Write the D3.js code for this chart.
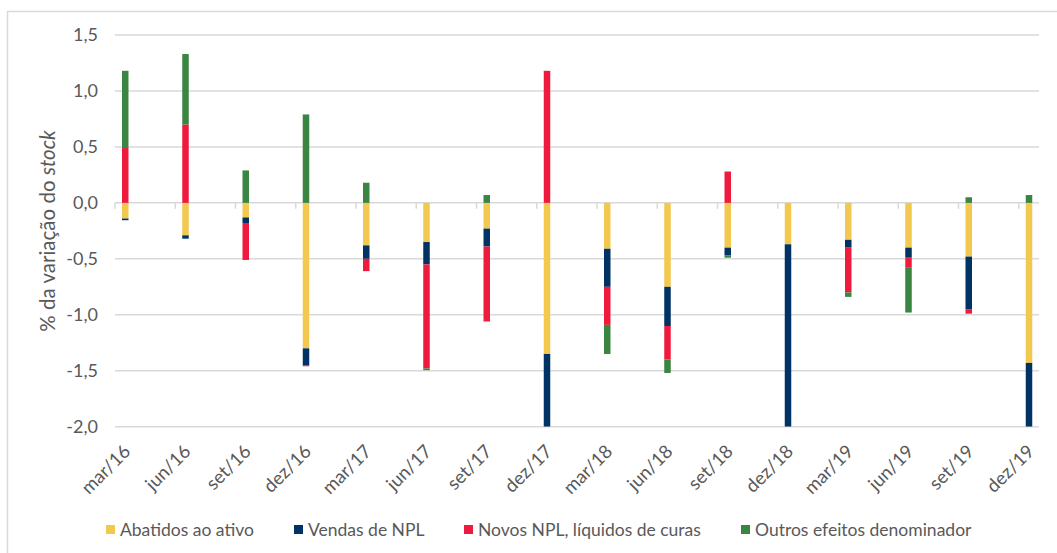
<!DOCTYPE html>
<html>
  <head>
    <script src="https://d3js.org/d3.v7.min.js"></script>
    <style>
      body { margin: 0; background: #fff; }
      text { font-family: Lato, "Open Sans", sans-serif; fill: #595959; }
      .grid line { stroke: #d9d9d9; stroke-width: 1.5; }
    </style>
  </head>
  <body>
    <svg width="1057" height="553"></svg>
    <script>
      // dados
      var categories = ["mar/16","jun/16","set/16","dez/16","mar/17","jun/17","set/17","dez/17",
                        "mar/18","jun/18","set/18","dez/18","mar/19","jun/19","set/19","dez/19"];
      var abatidos = [-0.14,-0.29,-0.13,-1.30,-0.38,-0.35,-0.23,-1.35,-0.41,-0.75,-0.40,-0.37,-0.33,-0.40,-0.48,-1.43];
      var vendas   = [-0.015,-0.03,-0.05,-0.15,-0.12,-0.20,-0.16,-0.65,-0.34,-0.35,-0.07,-1.63,-0.07,-0.09,-0.47,-0.57];
      var novos    = [0.49,0.70,-0.33,-0.01,-0.11,-0.93,-0.67,1.18,-0.34,-0.30,0.28,0,-0.40,-0.09,-0.04,0];
      var outros   = [0.69,0.63,0.29,0.79,0.18,-0.015,0.07,0,-0.26,-0.12,-0.02,0,-0.04,-0.40,0.05,0.07];
      var yTicks = [-2.0,-1.5,-1.0,-0.5,0.0,0.5,1.0,1.5];

      var seriesNames = ["Abatidos ao ativo","Vendas de NPL","Novos NPL, líquidos de curas","Outros efeitos denominador"];
      var seriesKeys = ["abatidos","vendas","novos","outros"];
      var colors = ["#f2c84f","#003263","#ee1b3f","#3b8542"];

      var rows = categories.map(function(c, i) {
        return {cat: c, abatidos: abatidos[i], vendas: vendas[i], novos: novos[i], outros: outros[i]};
      });

      var svg = d3.select("svg");

      // moldura
      svg.append("rect")
          .attr("x", 7.5).attr("y", 11.5)
          .attr("width", 1060).attr("height", 560)
          .attr("fill", "none").attr("stroke", "#d9d9d9").attr("stroke-width", 1.5);

      var plotLeft = 115, plotRight = 1039, plotTop = 35, plotBottom = 426.7;

      var x = d3.scaleBand().domain(categories).range([plotLeft, plotLeft + 60.25 * categories.length]).padding(0);
      var y = d3.scaleLinear().domain([-2, 1.5]).range([plotBottom, plotTop]);

      var loc = d3.formatLocale({decimal: ",", thousands: ".", grouping: [3], currency: ["", "€"], minus: "-"});
      var fmt = loc.format(".1f");

      // grelha
      svg.append("g").attr("class", "grid")
        .selectAll("line").data(yTicks).join("line")
          .attr("x1", plotLeft).attr("x2", plotRight)
          .attr("y1", function(d) { return y(d); })
          .attr("y2", function(d) { return y(d); });

      // eixo y
      svg.append("g").selectAll("text").data(yTicks).join("text")
          .attr("x", 98).attr("y", function(d) { return y(d); })
          .attr("dy", "0.35em")
          .attr("text-anchor", "end")
          .style("font-size", "18px")
          .text(function(d) { return fmt(d); });

      // marcas do eixo x
      svg.append("g").selectAll("line").data(categories).join("line")
          .attr("x1", function(d) { return x(d); }).attr("x2", function(d) { return x(d); })
          .attr("y1", y(0)).attr("y2", y(0) + 6)
          .attr("stroke", "#d9d9d9").attr("stroke-width", 1.5);

      // barras empilhadas
      var stack = d3.stack().keys(seriesKeys).offset(d3.stackOffsetDiverging);
      var series = stack(rows);

      svg.append("clipPath").attr("id", "plot")
        .append("rect").attr("x", plotLeft).attr("y", plotTop)
          .attr("width", plotRight - plotLeft).attr("height", plotBottom - plotTop);

      svg.append("g").attr("clip-path", "url(#plot)")
        .selectAll("g").data(series).join("g")
          .attr("fill", function(d, i) { return colors[i]; })
        .selectAll("rect").data(function(d) { return d; }).join("rect")
          .attr("x", function(d) { return x(d.data.cat) + 7; })
          .attr("width", 6.5)
          .attr("y", function(d) { return y(Math.max(d[0], d[1])); })
          .attr("height", function(d) { return Math.abs(y(d[0]) - y(d[1])); });

      // rótulos do eixo x
      svg.append("g").selectAll("text").data(categories).join("text")
          .attr("transform", function(d) { return "translate(" + (x(d) + 12) + "," + 448 + ") rotate(-45)"; })
          .attr("text-anchor", "end")
          .attr("dy", "0.35em")
          .style("font-size", "18.5px")
          .text(function(d) { return d; });

      // título do eixo y
      var yl = svg.append("text")
          .attr("transform", "translate(55,231) rotate(-90)")
          .attr("text-anchor", "middle")
          .style("font-size", "20.5px");
      yl.append("tspan").text("% da variação do ");
      yl.append("tspan").style("font-style", "italic").text("stock");

      // legenda
      var legendX = [106, 294, 464, 741];
      var leg = svg.append("g").selectAll("g").data(seriesNames).join("g")
          .attr("transform", function(d, i) { return "translate(" + legendX[i] + ",525)"; });
      leg.append("rect").attr("width", 9).attr("height", 9)
          .attr("fill", function(d, i) { return colors[i]; });
      leg.append("text").attr("x", 14).attr("y", 4.5).attr("dy", "0.35em")
          .style("font-size", "17.5px")
          .text(function(d) { return d; });
    </script>
  </body>
</html>
